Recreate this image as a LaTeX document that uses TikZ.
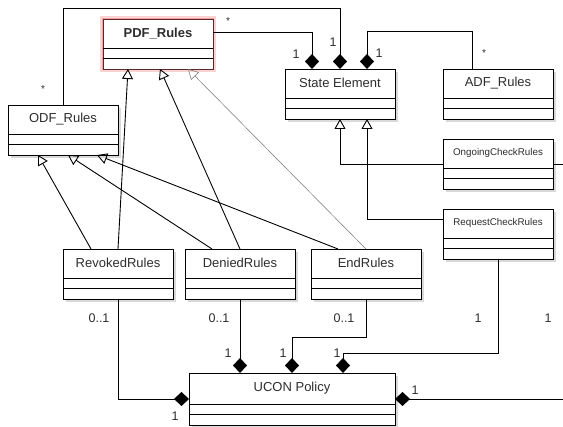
\documentclass[tikz,border=0pt]{standalone}
\usepackage{fontspec}
\setmainfont{Liberation Sans}
\usetikzlibrary{arrows.meta,shadows}
\definecolor{umltext}{RGB}{45,45,45}
\definecolor{glow}{RGB}{240,110,110}
\definecolor{glowline}{RGB}{90,40,40}
\tikzstyle{classbox}=[draw, line width=0.9pt, fill=white, outer sep=0pt, inner sep=0pt,
  minimum width=110pt, minimum height=50pt,
  drop shadow={opacity=0.3, shadow xshift=2.5pt, shadow yshift=-3pt}]
\tikzstyle{glowbox}=[classbox, draw=glowline, preaction={draw=glow!30, line width=6pt},
  preaction={draw=glow!65, line width=2.5pt}]
\tikzstyle{classname}=[text=umltext, inner sep=0pt, font=\fontsize{13}{15}\selectfont]
\tikzstyle{smallname}=[text=umltext, inner sep=0pt, font=\fontsize{9.8}{12}\selectfont]
\tikzstyle{mult}=[text=umltext, inner sep=0pt, font=\fontsize{12.5}{14}\selectfont]
\tikzstyle{star}=[text=umltext, inner sep=0pt, font=\fontsize{10}{12}\selectfont]
\tikzstyle{link}=[line width=0.9pt]
\tikzstyle{inherit}=[link, -{Triangle[open, length=10pt, width=11pt]}]
\tikzstyle{compose}=[link, -{Diamond[length=15pt, width=14pt]}]
\newcommand{\compartments}[1]{%
  \draw[line width=0.9pt] ([yshift=21pt]#1.south west) -- ([yshift=21pt]#1.south east);
  \draw[line width=0.9pt] ([yshift=11pt]#1.south west) -- ([yshift=11pt]#1.south east);}

\begin{document}
\begin{tikzpicture}[x=1pt,y=-1pt]
  \useasboundingbox (0,0) rectangle (563,427);

  %% Classes
  \draw (158,44) node[glowbox] (PDF) {};
  \compartments{PDF}
  \draw ([yshift=-14.5pt]PDF.north) node[classname] (PDFname) {\textbf{PDF\_Rules}};

  \draw (63,130) node[classbox] (ODF) {};
  \compartments{ODF}
  \draw ([yshift=-14pt]ODF.north) node[classname] (ODFname) {ODF\_Rules};

  \draw (340,94) node[classbox] (State) {};
  \compartments{State}
  \draw ([yshift=-14pt]State.north) node[classname] (Statename) {State Element};

  \draw (498,94) node[classbox] (ADF) {};
  \compartments{ADF}
  \draw ([yshift=-14pt]ADF.north) node[classname] (ADFname) {ADF\_Rules};

  \draw (498,164) node[classbox] (Ongoing) {};
  \compartments{Ongoing}
  \draw ([yshift=-14pt]Ongoing.north) node[smallname] (Ongoingname) {OngoingCheckRules};

  \draw (498,234) node[classbox] (Request) {};
  \compartments{Request}
  \draw ([yshift=-14pt]Request.north) node[smallname] (Requestname) {RequestCheckRules};

  \draw (118,274) node[classbox] (Revoked) {};
  \compartments{Revoked}
  \draw ([yshift=-14pt]Revoked.north) node[classname] (Revokedname) {RevokedRules};

  \draw (240,274) node[classbox] (Denied) {};
  \compartments{Denied}
  \draw ([yshift=-14pt]Denied.north) node[classname] (Deniedname) {DeniedRules};

  \draw (366,274) node[classbox] (End) {};
  \compartments{End}
  \draw ([yshift=-14pt]End.north) node[classname] (Endname) {EndRules};

  \draw (292,399) node[classbox, minimum width=206pt, minimum height=52pt] (UCON) {};
  \compartments{UCON}
  \draw ([yshift=-15pt]UCON.north) node[classname] (UCONname) {UCON Policy};

  \coordinate (offongoing) at (563,164);
  \coordinate (offpolicy) at (563,399);

  %% Generalisation
  \draw[inherit] (Revoked.north) -- ([xshift=-30pt]PDF.south);
  \draw[inherit] (Denied.north) -- ([xshift=2pt]PDF.south);
  \draw[inherit, line width=0.5pt, black!55] (End.north) -- ([xshift=30pt]PDF.south);
  \draw[inherit] ([xshift=-27pt]Revoked.north) -- ([xshift=-25pt]ODF.south);
  \draw[inherit] ([xshift=-28pt]Denied.north) -- ([xshift=5pt]ODF.south);
  \draw[inherit] ([xshift=-28pt]End.north) -- ([xshift=34pt]ODF.south);
  \draw[inherit] (Ongoing.west) -| (State.south);
  \draw[inherit] ([yshift=-10pt]Request.north west) -| ([xshift=27pt]State.south);
  \draw[link] (Ongoing.east) -- (offongoing);

  %% Composition into State Element
  \draw[compose] (ODF.north) -- ++(0,-97) -| (State.north);
  \draw[compose] ([yshift=12pt]PDF.east) -| ([xshift=-28pt]State.north);
  \draw[compose] ([xshift=-26pt]ADF.north) -- ++(0,-38) -| ([xshift=27pt]State.north);

  %% Composition into UCON Policy
  \draw[compose] (Revoked.south) |- (UCON.west);
  \draw[compose] (Denied.south) -- (Denied.south |- UCON.north);
  \draw[compose] (End.south) -- ++(0,38) -| (UCON.north);
  \draw[compose] (Request.south) -- ++(0,94) -| ([xshift=51pt]UCON.north);
  \draw[link, {Diamond[length=15pt, width=14pt]}-] (UCON.east) -- (offpolicy);

  %% Multiplicities
  \draw (43,89) node[star] (s1) {*};
  \draw (228,21) node[star] (s2) {*};
  \draw (484,53) node[star] (s3) {*};
  \draw (333,42) node[mult] (m1) {1};
  \draw (296,54) node[mult] (m2) {1};
  \draw (379,53) node[mult] (m3) {1};
  \draw (99,318) node[mult] (m4) {0..1};
  \draw (219,318) node[mult] (m5) {0..1};
  \draw (344,318) node[mult] (m6) {0..1};
  \draw (175,416) node[mult] (m7) {1};
  \draw (228,353) node[mult] (m8) {1};
  \draw (283,353) node[mult] (m9) {1};
  \draw (337,353) node[mult] (m10) {1};
  \draw (415,390) node[mult] (m11) {1};
  \draw (478,318) node[mult] (m12) {1};
  \draw (548,318) node[mult] (m13) {1};
\end{tikzpicture}
\end{document}
